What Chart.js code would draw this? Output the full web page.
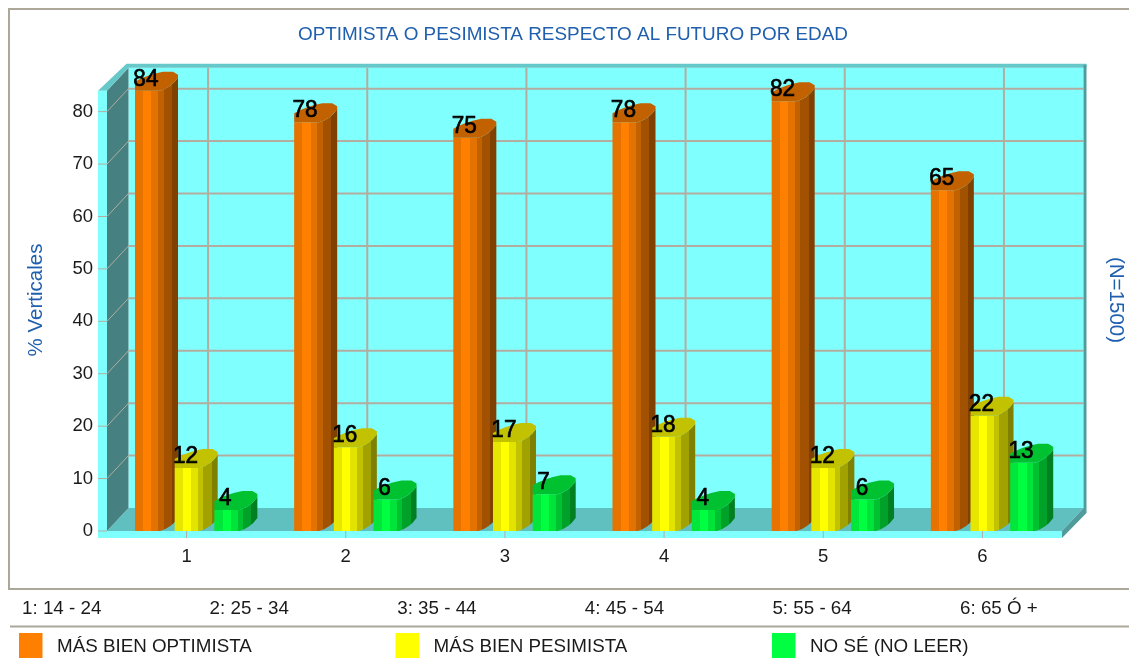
<!DOCTYPE html>
<html><head><meta charset="utf-8">
<style>html,body{margin:0;padding:0;background:#fff}canvas{display:block}</style>
<script src="https://cdn.jsdelivr.net/npm/chart.js@4"></script></head>
<body><canvas id="c" width="1129" height="658"></canvas>
<script>
const categories=['1','2','3','4','5','6'];
const ageLabels=['1: 14 - 24','2: 25 - 34','3: 35 - 44','4: 45 - 54','5: 55 - 64','6: 65 Ó +'];
const optimista=[84,78,75,78,82,65];
const pesimista=[12,16,17,18,12,22];
const noSe=[4,6,7,4,6,13];
const seriesNames=['MÁS BIEN OPTIMISTA','MÁS BIEN PESIMISTA','NO SÉ (NO LEER)'];
const seriesRGB=[[255,128,0],[255,255,0],[0,255,64]];

const FONT='"Liberation Sans", Arial, sans-serif';
const BLUE='#1f5fae', GRID='#b3ada0', TXT='#1a1a1a';
const DX=21.5, DY=23;
const shade=(c,m)=>`rgb(${c.map(v=>Math.round(v*m)).join(',')})`;
const STOPS=[[.19,.9],[.38,1],[.54,.89],[.67,.76],[.86,.63],[1,.5]];

function poly(ctx,pts,fill){ctx.beginPath();pts.forEach((p,i)=>i?ctx.lineTo(p[0],p[1]):ctx.moveTo(p[0],p[1]));ctx.closePath();ctx.fillStyle=fill;ctx.fill();}
function line(ctx,x1,y1,x2,y2,col,w){ctx.beginPath();ctx.moveTo(x1,y1);ctx.lineTo(x2,y2);ctx.strokeStyle=col;ctx.lineWidth=w||1;ctx.stroke();}

function cylinder(ctx,el,rgb){
  const W=el.width+19.2, x0=el.x-el.width/2, y=el.y, b=el.base, F=25/43*W;
  ctx.save();
  ctx.beginPath();
  ctx.moveTo(x0,y);ctx.lineTo(x0,b);ctx.lineTo(x0+F,b);
  ctx.quadraticCurveTo(x0+W-7,b-3,x0+W,b-13);
  ctx.lineTo(x0+W,y-13);
  ctx.quadraticCurveTo(x0+W-7,y-3,x0+F,y);
  ctx.closePath();
  const g=ctx.createLinearGradient(x0,0,x0+W,0);
  let prev=0;
  STOPS.forEach(([e,m])=>{g.addColorStop(prev,shade(rgb,m));g.addColorStop(e,shade(rgb,m));prev=e;});
  ctx.fillStyle=g;ctx.fill();
  ctx.beginPath();
  ctx.moveTo(x0,y);ctx.lineTo(x0+F,y);
  ctx.quadraticCurveTo(x0+W-7,y-3,x0+W,y-13);
  ctx.lineTo(x0+W,y-16);ctx.lineTo(x0+W-5,y-19);ctx.lineTo(x0+W-15,y-19);
  ctx.quadraticCurveTo(x0+12,y-16,x0,y-9);
  ctx.closePath();
  ctx.fillStyle=shade(rgb,.76);ctx.fill();
  ctx.restore();
}

const scene={
  id:'scene',
  beforeDatasetsDraw(chart){
    const ctx=chart.ctx,{left:l,right:r,top:t,bottom:b}=chart.chartArea;
    const xs=chart.scales.x, ys=chart.scales.y;
    const bl=l+DX, br=r+DX, bt=t-DY, bb=b-DY;
    ctx.save();
    poly(ctx,[[bl,bt],[br,bt],[br,bb],[bl,bb]],'#80ffff');
    poly(ctx,[[l,b],[bl,bb],[br,bb],[r,b]],'#60c0c0');
    poly(ctx,[[l,t],[bl,bt],[bl,bb],[l,b]],'#468080');
    ys.ticks.forEach(k=>{const y=ys.getPixelForValue(k.value);
      if(k.value>0){line(ctx,bl,y-DY,br,y-DY,GRID,2);line(ctx,l,y,bl,y-DY,GRID,1);}
    });
    categories.forEach((c,i)=>{const x=xs.getPixelForTick(i);line(ctx,x+DX,bt,x+DX,bb,GRID,2);});
    poly(ctx,[[l-9,t],[bl-2,bt-4],[br+3,bt-4],[br+3,bt],[bl,bt],[l,t]],'#66c8c8');
    poly(ctx,[[l-9,t],[l,t],[l,b+7],[l-9,b+7]],'#80ffff');
    poly(ctx,[[l-9,b],[r,b],[r,b+7],[l-9,b+7]],'#80ffff');
    poly(ctx,[[br,bt-3],[br+3,bt-3],[br+3,bb+5],[r,b+7],[r,b],[br,bb]],'#509c9c');
    ys.ticks.forEach(k=>{const y=ys.getPixelForValue(k.value);line(ctx,l-9,y,l,y,GRID,1);});
    categories.forEach((c,i)=>{const x=xs.getPixelForTick(i);line(ctx,x,b,x,b+7,GRID,1);});
    ctx.restore();
    chart.data.datasets.forEach((d,i)=>{
      chart.getDatasetMeta(i).data.forEach(el=>cylinder(ctx,el,seriesRGB[i]));
    });
  },
  beforeDatasetDraw(){return false;},
  afterDatasetsDraw(chart){
    const ctx=chart.ctx;
    ctx.save();
    ctx.fillStyle='#000';ctx.strokeStyle='#000';ctx.lineWidth=.7;ctx.textAlign='center';ctx.textBaseline='alphabetic';
    chart.data.datasets.forEach((d,i)=>{
      chart.getDatasetMeta(i).data.forEach((el,j)=>{
        ctx.save();ctx.translate(el.x-1,el.y-5);ctx.scale(.94,1);
        ctx.font='24px '+FONT;
        ctx.fillText(String(d.data[j]),0,0);ctx.strokeText(String(d.data[j]),0,0);
        ctx.restore();
      });
    });
    ctx.restore();
  },
  afterDraw(chart){
    const ctx=chart.ctx;
    ctx.save();
    line(ctx,9,9,1129,9,'#aca899',2);
    line(ctx,9,8,9,590,'#aca899',2);
    line(ctx,10,589,1129,589,'#aca899',2);
    line(ctx,10,626.5,1129,626.5,'#aca899',2);
    ctx.fillStyle=BLUE;ctx.font='20.5px '+FONT;ctx.textAlign='center';ctx.textBaseline='middle';
    ctx.save();ctx.translate(36,300);ctx.rotate(-Math.PI/2);ctx.fillText('% Verticales',0,0);ctx.restore();
    ctx.save();ctx.translate(1116,300);ctx.rotate(Math.PI/2);ctx.fillText('(N=1500)',0,0);ctx.restore();
    ctx.font='18.8px '+FONT;
    ctx.fillStyle=TXT;ctx.textAlign='left';
    ageLabels.forEach((s,i)=>ctx.fillText(s,22+i*187.6,608.5));
    seriesNames.forEach((s,i)=>{
      const x=19+i*376.5;
      ctx.fillStyle=shade(seriesRGB[i],1);ctx.fillRect(x,633,23.5,25);
      ctx.fillStyle=TXT;ctx.fillText(s,x+38,646.5);
    });
    ctx.restore();
  }
};

new Chart(document.getElementById('c'),{
  type:'bar',
  data:{labels:categories,datasets:[
    {label:seriesNames[0],data:optimista,backgroundColor:shade(seriesRGB[0],1)},
    {label:seriesNames[1],data:pesimista,backgroundColor:shade(seriesRGB[1],1)},
    {label:seriesNames[2],data:noSe,backgroundColor:shade(seriesRGB[2],1)}
  ]},
  options:{
    responsive:false,animation:false,
    devicePixelRatio:1,
    layout:{padding:{left:17,right:0,top:0,bottom:0}},
    datasets:{bar:{categoryPercentage:.748,barPercentage:.6}},
    plugins:{
      legend:{display:false},tooltip:{enabled:false},
      title:{display:true,text:'OPTIMISTA O PESIMISTA RESPECTO AL FUTURO POR EDAD',color:BLUE,
        font:{family:FONT,size:18.9,weight:'normal',lineHeight:1.2},padding:{top:23,bottom:45}}
    },
    scales:{
      x:{grid:{display:false,drawTicks:false},border:{display:false},
        ticks:{color:TXT,font:{family:FONT,size:18.5},padding:15},
        afterFit(s){s.height=127;}},
      y:{min:0,max:84,grid:{display:false,drawTicks:false},border:{display:false},
        ticks:{stepSize:10,includeBounds:false,color:TXT,font:{family:FONT,size:18.5},padding:14},
        afterFit(s){s.width=90;}},
      y2:{position:'right',min:0,max:84,display:true,grid:{display:false,drawTicks:false},border:{display:false},
        ticks:{display:false},afterFit(s){s.width=67;}}
    }
  },
  plugins:[scene]
});
</script></body></html>
